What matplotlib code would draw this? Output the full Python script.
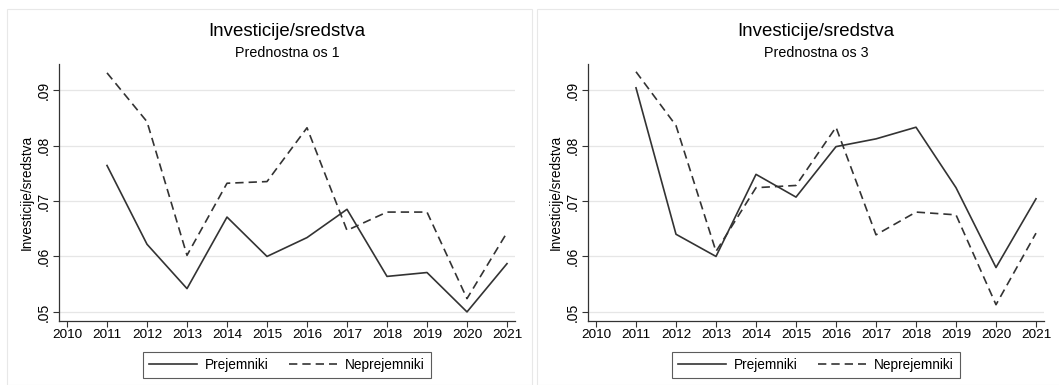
import matplotlib
matplotlib.use("Agg")
import matplotlib.pyplot as plt
from matplotlib.patches import Rectangle
from matplotlib.ticker import FuncFormatter

plt.rcParams['font.family'] = ['Liberation Sans', 'DejaVu Sans']

years = [2011, 2012, 2013, 2014, 2015, 2016, 2017, 2018, 2019, 2020, 2021]
xticks = list(range(2010, 2022))
yticks = [0.05, 0.06, 0.07, 0.08, 0.09]

os1_prejemniki = [0.0764, 0.0622, 0.0542, 0.0671, 0.0600, 0.0634, 0.0685, 0.0564, 0.0571, 0.0500, 0.0587]
os1_neprejemniki = [0.0931, 0.0843, 0.0602, 0.0732, 0.0735, 0.0832, 0.0647, 0.0680, 0.0680, 0.0524, 0.0643]
os3_prejemniki = [0.0904, 0.0640, 0.0600, 0.0748, 0.0707, 0.0798, 0.0812, 0.0833, 0.0724, 0.0580, 0.0704]
os3_neprejemniki = [0.0933, 0.0836, 0.0609, 0.0724, 0.0728, 0.0833, 0.0639, 0.0680, 0.0675, 0.0513, 0.0642]

title = "Investicije/sredstva"
subtitles = ["Prednostna os 1", "Prednostna os 3"]
ylabel = "Investicije/sredstva"
legend_labels = ["Prejemniki", "Neprejemniki"]

W, H = 1059, 385
fig = plt.figure(figsize=(W / 100, H / 100), dpi=100)
fig.patch.set_facecolor('white')

# panel frames
for x0, x1 in [(7, 532), (537, 1062)]:
    fig.add_artist(Rectangle((x0 / W, 0), (x1 - x0) / W, (H - 9) / H,
                             transform=fig.transFigure, fill=False,
                             edgecolor='#e8e8e8', linewidth=0.8))

data = [(os1_prejemniki, os1_neprejemniki), (os3_prejemniki, os3_neprejemniki)]
lefts = [59, 588]
line_color = '#333333'

def fmt(v, pos):
    s = f"{v:.2f}"
    return s[1:] if s.startswith("0") else s

for i, (pre, nep) in enumerate(data):
    ax = fig.add_axes([lefts[i] / W, 64 / H, 456 / W, 257 / H])
    ax.set_xlim(2009.8, 2021.2)
    ax.set_ylim(0.04836, 0.0947)
    for y in yticks:
        ax.axhline(y, color='#e6e6e6', linewidth=0.9, zorder=0)
    l1, = ax.plot(years, pre, color=line_color, linewidth=1.2, linestyle='-')
    l2, = ax.plot(years, nep, color=line_color, linewidth=1.2, linestyle=(0, (5, 3)))
    ax.set_xticks(xticks)
    ax.set_yticks(yticks)
    ax.yaxis.set_major_formatter(FuncFormatter(fmt))
    ax.tick_params(axis='x', labelsize=9.7, length=4, width=0.8, color='#333333', pad=2)
    ax.tick_params(axis='y', labelsize=10, length=4, width=0.8, color='#333333', pad=2)
    for lab in ax.get_yticklabels():
        lab.set_rotation(90)
        lab.set_va('center')
    ax.spines['top'].set_visible(False)
    ax.spines['right'].set_visible(False)
    ax.spines['left'].set_color('#333333')
    ax.spines['bottom'].set_color('#333333')
    ax.spines['left'].set_linewidth(0.9)
    ax.spines['bottom'].set_linewidth(0.9)
    ax.set_ylabel(ylabel, fontsize=9.8, labelpad=2)
    cx = (lefts[i] + 228) / W
    fig.text(cx, 1 - 32 / H, title, ha='center', va='center', fontsize=13.4)
    fig.text(cx, 1 - 53 / H, subtitles[i], ha='center', va='center', fontsize=10.3)
    leg = ax.legend([l1, l2], legend_labels, loc='upper center',
                    bbox_to_anchor=(0.5, -31 / 257), ncol=2, frameon=True,
                    fancybox=False, edgecolor='#333333', fontsize=9.8,
                    handlelength=3.5, columnspacing=1.5, borderpad=0.45,
                    handletextpad=0.6, borderaxespad=0)
    leg.get_frame().set_linewidth(0.8)

fig.savefig("out.png", dpi=100)
